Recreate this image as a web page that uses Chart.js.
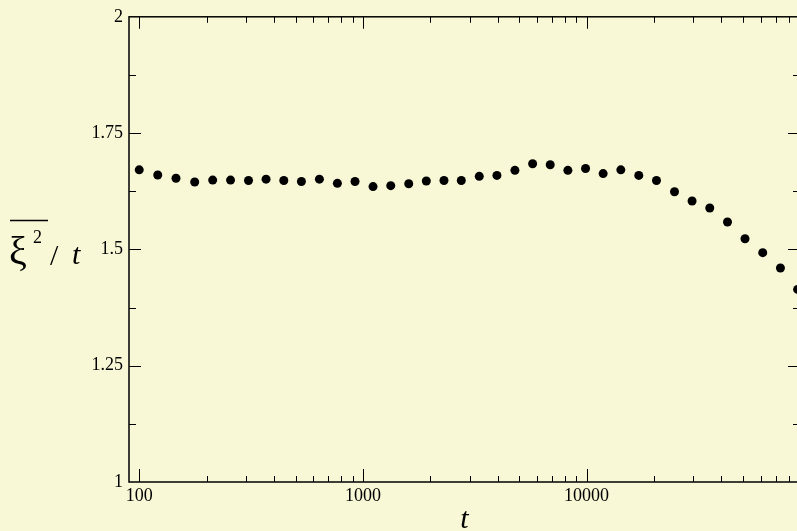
<!DOCTYPE html>
<html>
<head>
<meta charset="utf-8">
<script src="https://cdn.jsdelivr.net/npm/chart.js@4"></script>
<style>
  html, body { margin: 0; padding: 0; overflow: hidden; background: #f8f7d6; }
  #wrap { width: 812px; height: 531px; }
</style>
</head>
<body>
<div id="wrap"><canvas id="c" width="812" height="531"></canvas></div>
<script>
// ---- data ----
const tValues = [100, 121, 146, 177, 213, 256, 308, 369, 443, 531, 639, 769, 922, 1110, 1332, 1603, 1921, 2304,
  2754, 3313, 3974, 4783, 5739, 6878, 8250, 9897, 11860, 14230, 17120, 20540, 24730, 29630, 35550, 42660,
  51100, 61320, 73570, 87800];
const ratioValues = [1.671, 1.660, 1.653, 1.645, 1.649, 1.649, 1.648, 1.651, 1.648, 1.646, 1.651, 1.642, 1.646,
  1.635, 1.637, 1.641, 1.647, 1.648, 1.648, 1.657, 1.659, 1.670, 1.684, 1.682, 1.670, 1.674, 1.663, 1.671,
  1.659, 1.648, 1.624, 1.604, 1.589, 1.559, 1.523, 1.493, 1.460, 1.414];

const xMajorTicks = [100, 1000, 10000];
const xMinorTicks = [200, 300, 400, 500, 600, 700, 800, 900, 2000, 3000, 4000, 5000, 6000, 7000, 8000, 9000,
  20000, 30000, 40000, 50000, 60000, 70000, 80000, 90000];
const yMajorTicks = [1, 1.25, 1.5, 1.75, 2];
const yMinorTicks = [1.125, 1.375, 1.625, 1.875];

const SERIF = '"Liberation Serif", "Times New Roman", serif';

const framePlugin = {
  id: 'frame',
  beforeDatasetsDraw(chart) {
    const { ctx, chartArea: { left, right, top, bottom }, scales: { x, y } } = chart;
    ctx.save();
    ctx.strokeStyle = '#000';
    ctx.lineWidth = 1.5;
    ctx.strokeRect(left, top, right - left, bottom - top);
    ctx.lineWidth = 1;
    const vline = (px, y0, y1) => { const p = Math.round(px) + 0.5; ctx.beginPath(); ctx.moveTo(p, y0); ctx.lineTo(p, y1); ctx.stroke(); };
    const hline = (py, x0, x1) => { const p = Math.round(py) + 0.5; ctx.beginPath(); ctx.moveTo(x0, p); ctx.lineTo(x1, p); ctx.stroke(); };
    xMajorTicks.forEach(v => { const px = x.getPixelForValue(v); vline(px, bottom, bottom - 13); vline(px, top, top + 12); });
    xMinorTicks.forEach(v => { const px = x.getPixelForValue(v); if (px < right - 1) { vline(px, bottom, bottom - 6); vline(px, top, top + 6); } });
    yMajorTicks.forEach(v => { const py = y.getPixelForValue(v); if (v > 1 && v < 2) { hline(py, left, left + 12); hline(py, right, right - 12); } });
    yMinorTicks.forEach(v => { const py = y.getPixelForValue(v); hline(py, left, left + 7); hline(py, right, right - 7); });
    ctx.restore();
  },
  afterDraw(chart) {
    const { ctx } = chart;
    ctx.save();
    ctx.fillStyle = '#000';
    ctx.strokeStyle = '#000';
    ctx.textBaseline = 'alphabetic';
    ctx.font = '40px ' + SERIF;
    ctx.fillText('ξ', 9, 264);
    ctx.font = '18px ' + SERIF;
    ctx.fillText('2', 33, 243);
    ctx.lineWidth = 1.5;
    ctx.beginPath(); ctx.moveTo(10, 220.5); ctx.lineTo(48, 220.5); ctx.stroke();
    ctx.font = '30px ' + SERIF;
    ctx.fillText('/', 50, 265);
    ctx.font = 'italic 30px ' + SERIF;
    ctx.fillText('t', 72, 264);
    ctx.restore();
  }
};

new Chart(document.getElementById('c'), {
  type: 'scatter',
  data: {
    datasets: [{
      data: tValues.map((t, i) => ({ x: t, y: ratioValues[i] })),
      pointRadius: 4.5,
      pointHoverRadius: 4.5,
      pointBackgroundColor: '#000',
      pointBorderWidth: 0,
      showLine: false
    }]
  },
  options: {
    responsive: false,
    animation: false,
    devicePixelRatio: 1,
    layout: { padding: { top: 12, right: 12, left: 0, bottom: 0 } },
    plugins: { legend: { display: false }, tooltip: { enabled: false } },
    scales: {
      x: {
        type: 'logarithmic',
        min: 90,
        max: 90000,
        grid: { display: false, drawTicks: false },
        border: { display: false },
        afterBuildTicks: s => { s.ticks = xMajorTicks.map(v => ({ value: v })); },
        afterFit: s => { s.height = 49; },
        ticks: {
          autoSkip: false, maxRotation: 0, padding: 3, color: '#000',
          font: { family: SERIF, size: 18 },
          callback: v => String(v)
        },
        title: {
          display: true, text: 't', color: '#000',
          font: { family: SERIF, size: 30, style: 'italic', lineHeight: 0.75 },
          padding: 0
        }
      },
      y: {
        min: 1,
        max: 2,
        grid: { display: false, drawTicks: false },
        border: { display: false },
        afterBuildTicks: s => { s.ticks = yMajorTicks.map(v => ({ value: v })); },
        afterFit: s => { s.width = 129; },
        ticks: {
          autoSkip: false, padding: 6, color: '#000',
          font: { family: SERIF, size: 18 },
          callback: v => String(v)
        }
      }
    }
  },
  plugins: [framePlugin]
});
</script>
</body>
</html>
